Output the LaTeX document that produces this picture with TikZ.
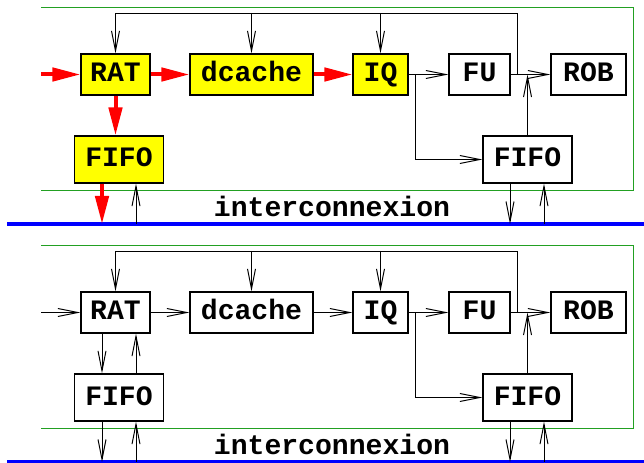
\documentclass[tikz,border=0pt]{standalone}
\usepackage{fontspec}
\setmonofont{Liberation Mono}
\usetikzlibrary{arrows.meta, positioning}
\definecolor{framegreen}{HTML}{22A022}
\definecolor{busblue}{HTML}{0000FF}
\definecolor{hotred}{HTML}{FF0000}
\definecolor{unityellow}{HTML}{FFFF00}

\begin{document}
\begin{tikzpicture}[
	x=0.25mm, y=-0.25mm,
	box/.style={
		draw, line width=0.8pt, minimum height=10.25mm, inner sep=0pt,
		font=\ttfamily\bfseries\fontsize{20}{24}\selectfont,
		text height=3.75mm, text depth=0pt
	},
	fifo/.style={box, minimum width=22.25mm, minimum height=11.75mm},
	lit/.style={fill=unityellow},
	link/.style={-{Straight Barb[length=5mm,width=2mm]}, line width=0.7pt},
	hotlink/.style={-{Triangle[length=7mm,width=3.3mm]}, draw=hotred, fill=hotred, line width=1mm},
	bus/.style={draw=busblue, line width=1mm},
	panel/.style={draw=framegreen, line width=0.7pt},
	busname/.style={font=\ttfamily\bfseries\fontsize{20}{24}\selectfont, anchor=base, inner sep=0pt}
	]
	\useasboundingbox (0,0) rectangle (644,463);
	
	% --- Upper panel: the units on the red path are yellow ---
	\draw[panel] (41,7) -- (633,7) -- (633,190) -- (41,190);
	
	\node[box, lit, minimum width=17.25mm] (rat) at (115.5,74.5) {RAT};
	\node[box, lit, minimum width=30.75mm] (dcache) at (251.5,74.5) {dcache};
	\node[box, lit, minimum width=13.75mm] (iq) at (380.5,74.5) {IQ};
	\node[box, minimum width=15.25mm] (fu) at (479.5,74.5) {FU};
	\node[box, minimum width=18.75mm] (rob) at (588.5,74.5) {ROB};
	\node[fifo, lit] (fifoL) at (119,159.5) {FIFO};
	\node[fifo] (fifoR) at (527.5,159.5) {FIFO};
	
	% interconnect
	\coordinate (busL) at (7,224);
	\coordinate (busR) at (644,224);
	\draw[bus] (busL) -- (busR);
	\node[busname] (net) at (332,217) {interconnexion};
	
	% red path
	\coordinate (in) at (41,74.5);
	\draw[hotlink] (in) -- (rat);
	\draw[hotlink] (rat) -- (dcache);
	\draw[hotlink] (dcache) -- (iq);
	\draw[hotlink] (rat) -- (rat |- fifoL.north);
	\coordinate (outL) at (102,224);
	\coordinate (backL) at (136,224);
	\draw[hotlink] (fifoL.south -| outL) -- (outL);
	\draw[link] (backL) -- (fifoL.south -| backL);
	
	% results
	\draw[link] (iq) -- (fu);
	\draw[link] (fu) -- (rob);
	\coordinate (split) at (415,74.5);
	\draw[link] (split) |- (fifoR);
	\draw[link] (fifoR) -- (fifoR |- rob);
	
	% feedback to RAT, dcache, IQ
	\coordinate (tap) at (517,74.5);
	\coordinate (top) at (517,13);
	\draw[link] (tap) -- (top) -| (rat);
	\draw[link] (dcache |- top) -- (dcache);
	\draw[link] (iq |- top) -- (iq);
	
	\coordinate (outR) at (510,224);
	\coordinate (backR) at (544,224);
	\draw[link] (fifoR.south -| outR) -- (outR);
	\draw[link] (backR) -- (fifoR.south -| backR);
	
	% --- Lower panel: same units, all in white ---
	\begin{scope}[shift={(0,238)}]
		\draw[panel] (41,7) -- (633,7) -- (633,190) -- (41,190);
		
		\node[box, minimum width=17.25mm] (rat2) at (115.5,74.5) {RAT};
		\node[box, minimum width=30.75mm] (dcache2) at (251.5,74.5) {dcache};
		\node[box, minimum width=13.75mm] (iq2) at (380.5,74.5) {IQ};
		\node[box, minimum width=15.25mm] (fu2) at (479.5,74.5) {FU};
		\node[box, minimum width=18.75mm] (rob2) at (588.5,74.5) {ROB};
		\node[fifo] (fifoL2) at (119,159.5) {FIFO};
		\node[fifo] (fifoR2) at (527.5,159.5) {FIFO};
		
		\coordinate (busL2) at (7,224);
		\coordinate (busR2) at (644,224);
		\draw[bus] (busL2) -- (busR2);
		\node[busname] (net2) at (332,217) {interconnexion};
		
		\coordinate (in2) at (41,74.5);
		\draw[link] (in2) -- (rat2);
		\draw[link] (rat2) -- (dcache2);
		\draw[link] (dcache2) -- (iq2);
		\coordinate (outL2) at (102,224);
		\coordinate (backL2) at (136,224);
		\draw[link] (rat2.south -| outL2) -- (fifoL2.north -| outL2);
		\draw[link] (fifoL2.north -| backL2) -- (rat2.south -| backL2);
		\draw[link] (fifoL2.south -| outL2) -- (outL2);
		\draw[link] (backL2) -- (fifoL2.south -| backL2);
		
		\draw[link] (iq2) -- (fu2);
		\draw[link] (fu2) -- (rob2);
		\coordinate (split2) at (415,74.5);
		\draw[link] (split2) |- (fifoR2);
		\draw[link] (fifoR2) -- (fifoR2 |- rob2);
		
		\coordinate (tap2) at (517,74.5);
		\coordinate (top2) at (517,13);
		\draw[link] (tap2) -- (top2) -| (rat2);
		\draw[link] (dcache2 |- top2) -- (dcache2);
		\draw[link] (iq2 |- top2) -- (iq2);
		
		\coordinate (outR2) at (510,224);
		\coordinate (backR2) at (544,224);
		\draw[link] (fifoR2.south -| outR2) -- (outR2);
		\draw[link] (backR2) -- (fifoR2.south -| backR2);
	\end{scope}
\end{tikzpicture}
\end{document}
